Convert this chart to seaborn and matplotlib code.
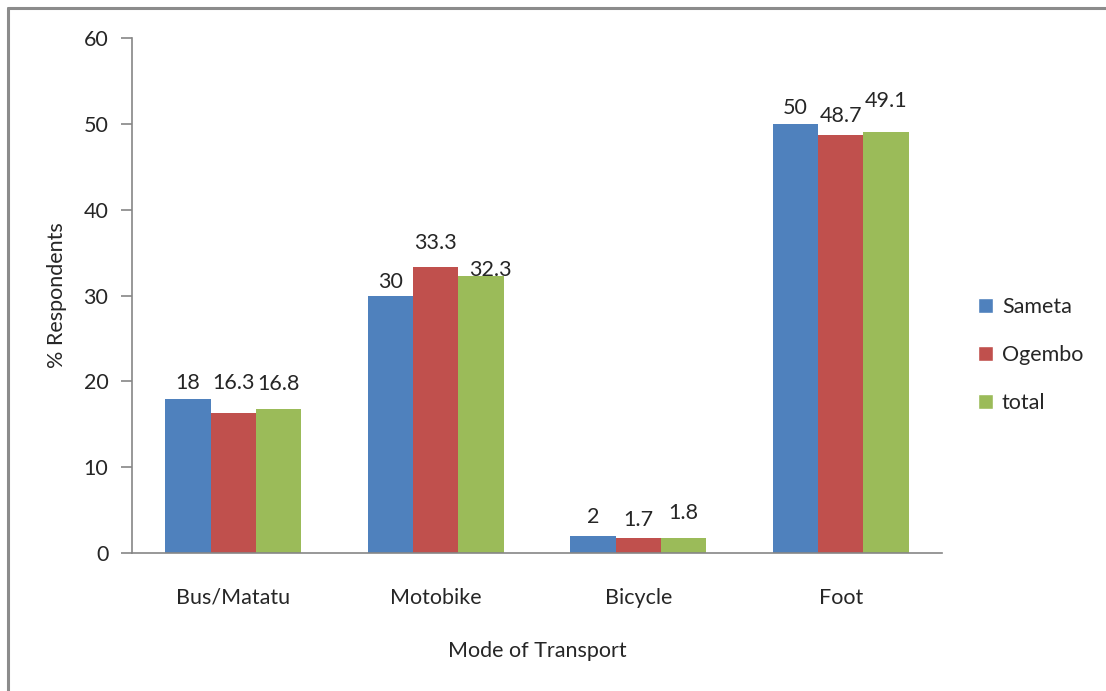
import pandas as pd
import matplotlib.pyplot as plt
import seaborn as sns
from matplotlib.lines import Line2D
from matplotlib.patches import Patch

sns.set_theme(style="white")
plt.rcParams['font.family'] = ['Lato', 'DejaVu Sans']

# dados
modos = ['Bus/Matatu', 'Motobike', 'Bicycle', 'Foot']
sameta = [18, 30, 2, 50]
ogembo = [16.3, 33.3, 1.7, 48.7]
total = [16.8, 32.3, 1.8, 49.1]
series = ['Sameta', 'Ogembo', 'total']
cores = ['#4F81BD', '#C0504D', '#9BBB59']

# afastamento dos rótulos (pt), como no original do Excel
afastamento = [
    [4, 2.5, 6.5, 4.5],
    [14.5, 10.5, 6, 6.5],
    [11, -3, 10.5, 14.5],
]

df = pd.DataFrame({
    'modo': modos * 3,
    'serie': [s for s in series for _ in modos],
    'valor': sameta + ogembo + total,
})

fig = plt.figure(figsize=(11.06, 6.91), dpi=100)
ax = fig.add_axes([0.1193, 0.1997, 0.7324, 0.7453])

sns.barplot(data=df, x='modo', y='valor', hue='serie', order=modos,
            hue_order=series, palette=cores, width=0.67, gap=0,
            saturation=1, errorbar=None, ax=ax, legend=False, linewidth=0)

cor_texto = '#262626'
for i, cont in enumerate(ax.containers):
    textos = ax.bar_label(cont, fmt='%g', padding=0, fontsize=15.5, color=cor_texto)
    for j, t in enumerate(textos):
        dx = 7 if (i == 2 and j == 1) else 0  # "32.3" deslocado no original
        t.xyann = (dx, afastamento[i][j])

ax.set_ylim(0, 60)
ax.set_xlim(-0.5, len(modos) - 0.5)
ax.set_yticks(range(0, 61, 10))
ax.set_xticks(range(len(modos)))
ax.set_xticks([i - 0.5 for i in range(len(modos) + 1)], minor=True)
ax.tick_params(axis='x', which='major', length=0, pad=25, labelsize=15.5,
               labelcolor=cor_texto)
ax.tick_params(axis='x', which='minor', length=8, width=1.2, color='#868686', direction='out')
ax.tick_params(axis='y', length=8, width=1.2, color='#868686', direction='out',
               pad=9, labelsize=15.5, left=True, labelcolor=cor_texto)

for lado in ['top', 'right']:
    ax.spines[lado].set_visible(False)
for lado in ['left', 'bottom']:
    ax.spines[lado].set_color('#868686')
    ax.spines[lado].set_linewidth(1.2)

ax.set_xlabel('Mode of Transport', fontsize=15.5, labelpad=24, color=cor_texto)
ax.set_ylabel('% Respondents', fontsize=15.5, labelpad=12, color=cor_texto)

handles = [Patch(facecolor=c, label=s) for c, s in zip(cores, series)]
fig.legend(handles=handles, loc='center left', bbox_to_anchor=(0.867, 0.486),
           frameon=False, fontsize=15.5, handlelength=0.7, handleheight=0.7,
           handletextpad=0.4, labelspacing=1.3, labelcolor=cor_texto)

# moldura do gráfico (só esquerda e topo visíveis)
fig.add_artist(Line2D([8 / 1106, 8 / 1106], [0, 1 - 8 / 691], color='#8C8C8C',
                      lw=2.2, transform=fig.transFigure))
fig.add_artist(Line2D([8 / 1106, 1], [1 - 8 / 691, 1 - 8 / 691], color='#8C8C8C',
                      lw=2.2, transform=fig.transFigure))

plt.savefig('out.png', dpi=100, facecolor='white')
plt.close()
